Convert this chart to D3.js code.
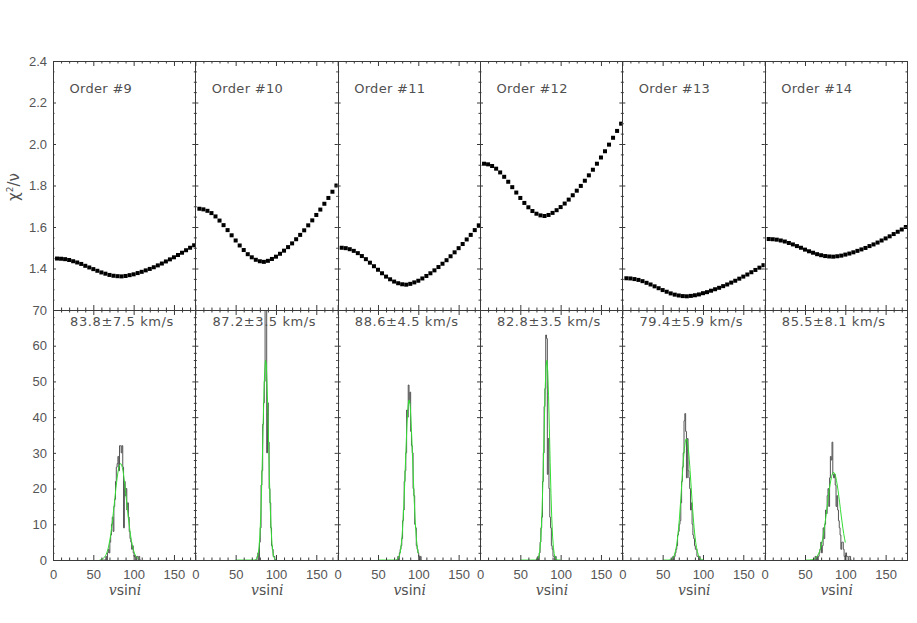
<!DOCTYPE html>
<html>
<head>
<meta charset="utf-8">
<script src="https://cdn.jsdelivr.net/npm/d3@7"></script>
<style>
  body { margin: 0; background: #fff; }
  text { font-family: "DejaVu Sans", sans-serif; fill: #505050; }
  .tick text { font-family: "Liberation Sans", sans-serif; font-size: 13px; fill: #555; }
</style>
</head>
<body>
<div class="svg-container"></div>
<script>
var width = 917;
var height = 623;

// panel titles and fit results
var orders = ["Order #9", "Order #10", "Order #11", "Order #12", "Order #13", "Order #14"];
var fitLabels = ["83.8\u00b17.5 km/s", "87.2\u00b13.5 km/s", "88.6\u00b14.5 km/s",
                 "82.8\u00b13.5 km/s", "79.4\u00b15.9 km/s", "85.5\u00b18.1 km/s"];

// v sin i grid of the chi2 scan
var vGrid = [5, 10, 15, 20, 25, 30, 35, 40, 45, 50, 55, 60, 65, 70, 75, 80, 85, 90,
             95, 100, 105, 110, 115, 120, 125, 130, 135, 140, 145, 150, 155, 160, 165, 170, 175];

var chi9  = [1.448, 1.447, 1.445, 1.441, 1.435, 1.429, 1.422, 1.413, 1.405, 1.397, 1.389, 1.381, 1.375, 1.369, 1.365, 1.363, 1.362, 1.364,
             1.368, 1.372, 1.378, 1.384, 1.391, 1.398, 1.406, 1.415, 1.424, 1.434, 1.444, 1.454, 1.465, 1.476, 1.488, 1.500, 1.512];
var chi10 = [1.688, 1.685, 1.678, 1.667, 1.651, 1.631, 1.609, 1.585, 1.560, 1.535, 1.511, 1.489, 1.469, 1.454, 1.442, 1.435, 1.432, 1.437,
             1.446, 1.457, 1.471, 1.486, 1.503, 1.521, 1.541, 1.562, 1.584, 1.608, 1.632, 1.658, 1.684, 1.712, 1.740, 1.770, 1.800];
var chi11 = [1.500, 1.498, 1.493, 1.485, 1.474, 1.460, 1.445, 1.428, 1.411, 1.394, 1.377, 1.361, 1.348, 1.337, 1.329, 1.324, 1.322, 1.326,
             1.333, 1.341, 1.352, 1.364, 1.377, 1.391, 1.407, 1.423, 1.440, 1.459, 1.478, 1.498, 1.518, 1.540, 1.562, 1.585, 1.608];
var chi12 = [1.905, 1.902, 1.894, 1.881, 1.863, 1.842, 1.818, 1.792, 1.766, 1.740, 1.716, 1.695, 1.677, 1.664, 1.656, 1.653, 1.658, 1.668,
             1.681, 1.696, 1.713, 1.732, 1.753, 1.775, 1.798, 1.823, 1.849, 1.876, 1.905, 1.935, 1.965, 1.997, 2.030, 2.063, 2.098];
var chi13 = [1.353, 1.352, 1.349, 1.345, 1.339, 1.331, 1.323, 1.314, 1.305, 1.296, 1.288, 1.280, 1.274, 1.270, 1.267, 1.266, 1.268, 1.271,
             1.275, 1.281, 1.286, 1.293, 1.300, 1.307, 1.315, 1.323, 1.332, 1.341, 1.351, 1.361, 1.371, 1.382, 1.393, 1.404, 1.416];
var chi14 = [1.542, 1.541, 1.539, 1.535, 1.530, 1.523, 1.516, 1.508, 1.500, 1.491, 1.483, 1.476, 1.469, 1.464, 1.460, 1.458, 1.457, 1.459,
             1.462, 1.467, 1.472, 1.478, 1.485, 1.492, 1.499, 1.508, 1.516, 1.525, 1.535, 1.545, 1.555, 1.566, 1.577, 1.588, 1.600];
var chiSeries = [chi9, chi10, chi11, chi12, chi13, chi14];

// histograms of v sin i, 1 km/s bins, first bin centre in histStart
var histStart = [62, 75, 74, 70, 62, 62];
var hist9  = [0, 0, 0, 0, 1, 0, 2, 3, 2, 5, 7, 10, 12, 8, 15, 17, 22, 26, 27, 29, 25, 32, 32, 30, 32, 26, 9, 22, 18, 20,
              14, 16, 12, 8, 6, 5, 3, 4, 2, 1, 1, 0, 1, 1, 0, 1, 0];
var hist10 = [0, 0, 1, 2, 0, 5, 9, 21, 25, 38, 44, 50, 72, 70, 30, 44, 33, 20, 16, 9, 4, 3, 1, 1, 0];
var hist11 = [0, 1, 0, 2, 3, 4, 6, 11, 14, 22, 25, 30, 42, 40, 49, 44, 47, 36, 32, 30, 20, 18, 10, 9, 4, 3, 2, 1, 0, 1];
var hist12 = [0, 0, 1, 0, 2, 5, 9, 12, 22, 30, 43, 48, 63, 62, 24, 34, 20, 12, 9, 4, 3, 1, 1, 0, 1, 0];
var hist13 = [0, 1, 0, 1, 2, 3, 4, 7, 8, 10, 11, 16, 22, 26, 30, 39, 41, 36, 23, 34, 25, 23, 20, 14, 16, 10, 7, 6, 4, 3,
              3, 1, 1, 0, 1, 0];
var hist14 = [0, 1, 0, 1, 0, 1, 2, 3, 5, 2, 4, 9, 6, 10, 14, 13, 18, 20, 15, 23, 29, 28, 33, 24, 23, 24, 21, 15, 18, 14,
              11, 9, 7, 3, 5, 5, 3, 1, 0, 2, 1, 1, 0, 1, 1, 0];
var histSeries = [hist9, hist10, hist11, hist12, hist13, hist14];

// gaussian fits, 1 km/s steps from fitStart
var fitStart = [58, 50, 50, 50, 50, 50];
var fit9  = [0.1, 0.1, 0.2, 0.3, 0.4, 0.6, 0.8, 1.2, 1.6, 2.2, 2.9, 3.9, 5.0, 6.3, 7.8, 9.6, 11.5, 13.6, 15.7, 17.9,
             20.0, 22.0, 23.8, 25.2, 26.2, 26.8, 27.0, 26.7, 25.9, 24.7, 23.1, 21.2, 19.2, 17.0, 14.9, 12.7, 10.7, 8.9,
             7.2, 5.7, 4.5, 3.5, 2.6, 1.9, 1.4, 1.0, 0.7, 0.5, 0.3];
var fit10 = [0, 0, 0, 0, 0, 0, 0, 0, 0, 0, 0, 0, 0, 0, 0, 0, 0, 0, 0, 0, 0, 0, 0, 0, 0,
             0.1, 0.3, 0.8, 1.8, 3.6, 6.7, 11.7, 18.6, 27.3, 36.9, 46.0, 52.8, 55.9, 54.6, 49.0, 40.7, 31.1, 21.9,
             14.2, 8.5, 4.7, 2.4, 1.1, 0.5, 0.2, 0.1];
var fit11 = [0, 0, 0, 0, 0, 0, 0, 0, 0, 0, 0, 0, 0, 0, 0, 0, 0, 0, 0, 0, 0, 0, 0,
             0.1, 0.2, 0.5, 0.9, 1.6, 2.8, 4.6, 7.2, 10.8, 15.3, 20.7, 26.7, 32.7, 38.1, 42.2, 44.6, 44.8, 42.9, 39.0,
             33.8, 27.9, 21.9, 16.4, 11.6, 7.9, 5.1, 3.1, 1.8];
var fit12 = [0, 0, 0, 0, 0, 0, 0, 0, 0, 0, 0, 0, 0, 0, 0, 0, 0, 0, 0, 0,
             0.1, 0.2, 0.5, 1.1, 2.4, 4.7, 8.5, 14.2, 21.9, 31.1, 40.7, 49.0, 54.6, 55.9, 52.8, 46.0, 36.9, 27.3, 18.6,
             11.7, 6.7, 3.6, 1.8, 0.8, 0.3, 0.1, 0, 0, 0, 0, 0];
var fit13 = [0, 0, 0, 0, 0, 0, 0, 0, 0,
             0.1, 0.2, 0.3, 0.4, 0.7, 1.1, 1.7, 2.6, 3.7, 5.3, 7.2, 9.5, 12.3, 15.5, 18.9, 22.4, 25.7, 28.8, 31.3, 33.0,
             33.9, 33.8, 32.8, 30.9, 28.2, 25.1, 21.7, 18.2, 14.8, 11.8, 9.0, 6.8, 4.9, 3.5, 2.4, 1.6, 1.0, 0.6, 0.4,
             0.2, 0.1, 0.1];
var fit14 = [0, 0, 0, 0, 0, 0, 0,
             0.1, 0.1, 0.1, 0.2, 0.3, 0.4, 0.5, 0.7, 1.0, 1.4, 1.8, 2.4, 3.1, 3.9, 4.9, 6.1, 7.4, 8.9, 10.6, 12.3, 14.1,
             16.0, 17.8, 19.5, 21.0, 22.3, 23.4, 24.1, 24.5, 24.5, 24.1, 23.4, 22.3, 21.0, 19.5, 17.8, 16.0, 14.1, 12.3,
             10.6, 8.9, 7.4, 6.1, 4.9];
var fitSeries = [fit9, fit10, fit11, fit12, fit13, fit14];

// tick values
var vTicks = [0, 50, 100, 150];
var vMinor = [10, 20, 30, 40, 60, 70, 80, 90, 110, 120, 130, 140, 160, 170];
var chiTicks = [1.2, 1.4, 1.6, 1.8, 2.0, 2.2, 2.4];
var chiLabels = ["", "1.4", "1.6", "1.8", "2.0", "2.2", "2.4"];
var chiMinor = [1.25, 1.3, 1.35, 1.45, 1.5, 1.55, 1.65, 1.7, 1.75, 1.85, 1.9, 1.95, 2.05, 2.1, 2.15, 2.25, 2.3, 2.35];
var countTicks = [0, 10, 20, 30, 40, 50, 60, 70];
var countMinor = [2, 4, 6, 8, 12, 14, 16, 18, 22, 24, 26, 28, 32, 34, 36, 38, 42, 44, 46, 48, 52, 54, 56, 58, 62, 64, 66, 68];

var svg = d3.select(".svg-container")
              .append("svg")
              .attr("width", width)
              .attr("height", height);

// panel columns and the two rows
var panelX = d3.scaleLinear().domain([0, 6]).range([53, 907]);
var yChi = d3.scaleLinear().domain([1.2, 2.4]).range([310, 61]);
var yCount = d3.scaleLinear().domain([0, 70]).range([560, 310]);
var vMax = 176.5;

orders.forEach(function(order, i) {
    var x = d3.scaleLinear().domain([0, vMax]).range([panelX(i), panelX(i + 1)]);

    // clip areas
    var clipTop = "clipTop" + i, clipBot = "clipBot" + i;
    svg.append("clipPath").attr("id", clipTop).append("rect")
        .attr("x", x(0)).attr("y", yChi(2.4)).attr("width", x(vMax) - x(0)).attr("height", yChi(1.2) - yChi(2.4));
    svg.append("clipPath").attr("id", clipBot).append("rect")
        .attr("x", x(0)).attr("y", yCount(70)).attr("width", x(vMax) - x(0)).attr("height", yCount(0) - yCount(70));

    // chi2 scan, filled squares
    svg.append("g").attr("clip-path", "url(#" + clipTop + ")")
        .selectAll("rect")
        .data(chiSeries[i])
        .enter()
        .append("rect")
        .attr("x", function(d, j) { return x(vGrid[j]) - 2; })
        .attr("y", function(d) { return yChi(d) - 2; })
        .attr("width", 4)
        .attr("height", 4)
        .attr("fill", "#000");

    // histogram, drawn as steps
    var h = histSeries[i];
    var histPts = [[histStart[i] - 1, 0]];
    h.forEach(function(c, j) { histPts.push([histStart[i] + j, c]); });
    histPts.push([histStart[i] + h.length, 0]);

    var histLine = d3.line()
                 .x(function(d) { return x(d[0]); })
                 .y(function(d) { return yCount(d[1]); })
                 .curve(d3.curveStep);

    svg.append("path")
        .datum(histPts)
        .attr("clip-path", "url(#" + clipBot + ")")
        .attr("fill", "none")
        .attr("stroke", "#555")
        .attr("stroke-width", 1)
        .attr("d", histLine);

    // gaussian fit
    var fitLine = d3.line()
                .x(function(d, j) { return x(fitStart[i] + j); })
                .y(function(d) { return yCount(d); });

    svg.append("path")
        .datum(fitSeries[i])
        .attr("clip-path", "url(#" + clipBot + ")")
        .attr("fill", "none")
        .attr("stroke", "#33dd33")
        .attr("stroke-width", 1)
        .attr("d", fitLine);

    // axes, ticks pointing inwards on all sides
    drawAxes(x, yChi, chiTicks, chiMinor, i == 0 ? chiLabels : null, false);
    drawAxes(x, yCount, countTicks, countMinor, i == 0 ? countTicks.map(String) : null, true);

    // frames
    [[yChi(2.4), yChi(1.2)], [yCount(70), yCount(0)]].forEach(function(r) {
        svg.append("rect")
            .attr("x", Math.round(x(0)) + 0.5)
            .attr("y", Math.round(r[0]) + 0.5)
            .attr("width", Math.round(x(vMax)) - Math.round(x(0)))
            .attr("height", Math.round(r[1]) - Math.round(r[0]))
            .attr("fill", "none")
            .attr("stroke", "#3a3a3a")
            .attr("stroke-width", 1);
    });

    // panel texts
    svg.append("text")
        .attr("x", x(0) + 16.5)
        .attr("y", 92.5)
        .style("font-size", "13px")
        .style("letter-spacing", "0.3px")
        .text(order);

    svg.append("text")
        .attr("x", x(0) + 69)
        .attr("y", 326)
        .attr("text-anchor", "middle")
        .style("font-size", "13px")
        .style("letter-spacing", "0.6px")
        .text(fitLabels[i]);

    var xl = svg.append("text")
        .attr("x", x(0) + 72)
        .attr("y", 595)
        .attr("text-anchor", "middle")
        .style("font-size", "14px");
    xl.append("tspan").style("font-family", "DejaVu Serif").style("font-style", "italic").text("v");
    xl.append("tspan").text("sin");
    xl.append("tspan").style("font-family", "DejaVu Serif").style("font-style", "italic").text("i");
});

function drawAxes(x, y, major, minor, yLabels, showX) {
    var top = y.range()[1], bottom = y.range()[0];
    var left = x.range()[0], right = x.range()[1];
    var xLen = 5, yLen = 3;

    addAxis(d3.axisBottom(x).tickValues(vTicks).tickSize(-xLen)
              .tickPadding(10).tickFormat(showX ? d3.format("d") : ""), "translate(0," + bottom + ")");
    addAxis(d3.axisBottom(x).tickValues(vMinor).tickSize(-xLen / 2).tickFormat(""), "translate(0," + bottom + ")");
    addAxis(d3.axisTop(x).tickValues(vTicks).tickSize(-xLen).tickFormat(""), "translate(0," + top + ")");
    addAxis(d3.axisTop(x).tickValues(vMinor).tickSize(-xLen / 2).tickFormat(""), "translate(0," + top + ")");

    addAxis(d3.axisLeft(y).tickValues(major).tickSize(-yLen).tickPadding(6)
              .tickFormat(function(d, k) { return yLabels ? yLabels[k] : ""; }), "translate(" + left + ",0)");
    addAxis(d3.axisLeft(y).tickValues(minor).tickSize(-yLen / 2).tickFormat(""), "translate(" + left + ",0)");
    addAxis(d3.axisRight(y).tickValues(major).tickSize(-yLen).tickFormat(""), "translate(" + right + ",0)");
    addAxis(d3.axisRight(y).tickValues(minor).tickSize(-yLen / 2).tickFormat(""), "translate(" + right + ",0)");
}

function addAxis(axis, transform) {
    var g = svg.append("g")
        .attr("transform", transform)
        .attr("color", "#3a3a3a")
        .call(axis.tickSizeOuter(0));
    g.select(".domain").remove();
    g.attr("font-family", null).attr("font-size", null);
}

// y axis title
var yt = svg.append("text")
    .attr("transform", "translate(19,187) rotate(-90)")
    .attr("text-anchor", "middle")
    .style("font-size", "15px");
yt.append("tspan").text("\u03c7");
yt.append("tspan").attr("dy", -6).style("font-size", "9px").text("2");
yt.append("tspan").attr("dy", 6).text("/\u03bd");
</script>
</body>
</html>
